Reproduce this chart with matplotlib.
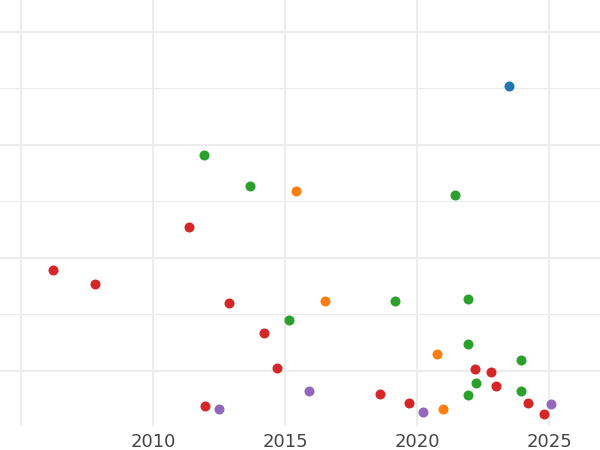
import matplotlib
matplotlib.use("Agg")
import matplotlib.pyplot as plt
from matplotlib.ticker import MultipleLocator

# values (y in arbitrary units, no labels shown)
blue_x = [2023.48]
blue_y = [35.25]

orange_x = [2015.41, 2016.52, 2020.76, 2020.97]
orange_y = [25.9, 16.2, 11.5, 6.6]

green_x = [2011.93, 2013.66, 2021.45, 2015.16, 2019.18, 2021.94, 2021.94,
           2023.94, 2022.25, 2021.92, 2023.94]
green_y = [29.1, 26.4, 25.6, 14.5, 16.2, 16.4, 12.4, 11.0, 8.9, 7.9, 8.2]

red_x = [2011.36, 2006.2, 2007.78, 2012.89, 2014.2, 2014.71, 2011.97,
         2018.59, 2019.7, 2022.19, 2022.8, 2022.98, 2024.2, 2024.81]
red_y = [22.7, 18.9, 17.7, 16.0, 13.4, 10.3, 6.9, 8.0, 7.2, 10.2, 9.9, 8.7,
         7.2, 6.2]

purple_x = [2012.49, 2015.9, 2020.24, 2025.08]
purple_y = [6.6, 8.2, 6.4, 7.1]

xtick_years = [2005, 2010, 2015, 2020, 2025]
xtick_labels = ["", "2010", "2015", "2020", "2025"]

fig = plt.figure(figsize=(6, 4.5), dpi=100)
ax = fig.add_axes([0, 24 / 450, 1, 426 / 450])

series = [
    (blue_x, blue_y, "#1f77b4"),
    (orange_x, orange_y, "#ff7f0e"),
    (green_x, green_y, "#2ca02c"),
    (red_x, red_y, "#d62728"),
    (purple_x, purple_y, "#9467bd"),
]
for xs, ys, c in series:
    ax.scatter(xs, ys, s=52, color=c, linewidths=0, zorder=3)

ax.set_xticks(xtick_years)
ax.set_xticklabels(xtick_labels)
ax.set_xlim(2004.2, 2026.93)
ax.set_ylim(5.13, 42.83)

ax.yaxis.set_major_locator(MultipleLocator(10))
ax.yaxis.set_minor_locator(MultipleLocator(5))

ax.grid(which="major", color="#ebebeb", linewidth=1.3)
ax.grid(which="minor", axis="y", color="#ebebeb", linewidth=0.8)
ax.set_axisbelow(True)

for sp in ax.spines.values():
    sp.set_visible(False)

ax.tick_params(which="both", length=0)
ax.tick_params(axis="x", labelsize=13, labelcolor="#444444", pad=5)
ax.set_yticklabels([])
ax.set_facecolor("white")

fig.savefig("out.png", dpi=100)
